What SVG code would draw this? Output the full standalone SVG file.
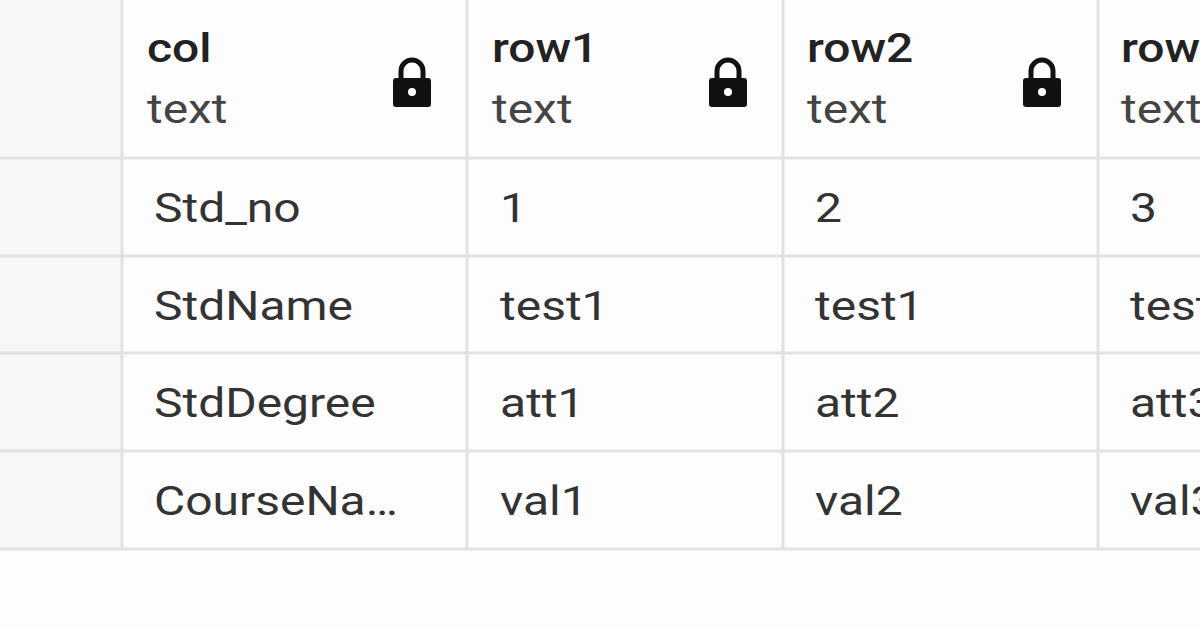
<svg xmlns="http://www.w3.org/2000/svg" width="1200" height="627" viewBox="0 0 1200 627">
<style>
.h{font-family:Roboto,"Liberation Sans",sans-serif;font-size:41px;fill:#222;font-weight:500}
.t{font-family:Roboto,"Liberation Sans",sans-serif;font-size:41px;fill:#444}
.c{font-family:Roboto,"Liberation Sans",sans-serif;font-size:41px;fill:#333}
.g{stroke:#e2e2e2;stroke-width:3;fill:none}
</style>
<defs>
<g id="lock"><path d="M-11,-6 v-7 a11,11 0 0 1 22,0 v7" fill="none" stroke="#111" stroke-width="5"/><rect x="-19" y="-6" width="38" height="29" rx="3" fill="#111"/><circle cx="0" cy="8" r="4" fill="#fff"/></g>
</defs>
<rect width="1200" height="627" fill="#fdfdfd"/>
<rect x="0" y="0" width="122" height="549" fill="#f7f7f7"/>
<g id="grid">
<path class="g" d="M122,0V549M467,0V549M783,0V549M1098,0V549M0,158H1200M0,256H1200M0,353H1200M0,451H1200M0,549H1200"/>
</g>
<use href="#lock" x="412" y="84"/><use href="#lock" x="728" y="84"/><use href="#lock" x="1042" y="84"/>
<g id="header" transform="scale(1.17,1)">
<text class="h" x="125.6" y="62">col</text><text class="t" x="125.6" y="123">text</text>
<text class="h" x="420.5" y="62">row1</text><text class="t" x="420.5" y="123">text</text>
<text class="h" x="689.7" y="62">row2</text><text class="t" x="689.7" y="123">text</text>
<text class="h" x="958.1" y="62">row3</text><text class="t" x="958.1" y="123">text</text>
</g>
<g id="rows" transform="scale(1.17,1)">
<text class="c" x="131.6" y="222">Std_no</text><text class="c" x="427.4" y="222">1</text><text class="c" x="696.6" y="222">2</text><text class="c" x="965.8" y="222">3</text>
<text class="c" x="131.6" y="320">StdName</text><text class="c" x="427.4" y="320">test1</text><text class="c" x="696.6" y="320">test1</text><text class="c" x="965.8" y="320">test1</text>
<text class="c" x="131.6" y="417">StdDegree</text><text class="c" x="427.4" y="417">att1</text><text class="c" x="696.6" y="417">att2</text><text class="c" x="965.8" y="417">att3</text>
<text class="c" x="131.6" y="515">CourseNa…</text><text class="c" x="427.4" y="515">val1</text><text class="c" x="696.6" y="515">val2</text><text class="c" x="965.8" y="515">val3</text>
</g>
</svg>
